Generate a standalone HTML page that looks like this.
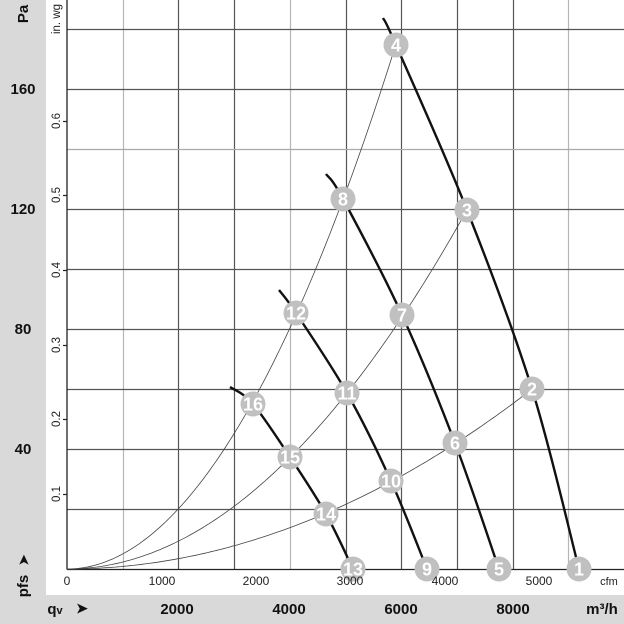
<!DOCTYPE html>
<html><head><meta charset="utf-8"><style>
html,body{margin:0;padding:0;background:#fff;}
svg{display:block;font-family:"Liberation Sans",Arial,sans-serif;}
</style></head><body>
<svg id="s" width="624" height="624" viewBox="0 0 624 624" xmlns="http://www.w3.org/2000/svg">
<rect x="0" y="0" width="46" height="624" fill="#d9d9d9"/>
<rect x="0" y="595" width="624" height="29" fill="#d9d9d9"/>
<g id="grid" stroke-width="1.2"></g>
<line x1="67" y1="0" x2="67" y2="569.5" stroke="#222" stroke-width="1.3"/>
<line x1="67" y1="569.5" x2="624" y2="569.5" stroke="#222" stroke-width="1.3"/>
<g id="curves" fill="none"></g>
<g id="pts"></g>
<g font-size="12" fill="#222" text-anchor="middle">
<text x="67" y="585">0</text><text x="162" y="585">1000</text><text x="256" y="585">2000</text>
<text x="350" y="585">3000</text><text x="445" y="585">4000</text><text x="539" y="585">5000</text>
<text x="609" y="585" font-size="11">cfm</text>
</g>
<g font-size="11.5" fill="#222" text-anchor="middle">
<text transform="translate(60,494) rotate(-90)">0.1</text>
<text transform="translate(60,419) rotate(-90)">0.2</text>
<text transform="translate(60,345) rotate(-90)">0.3</text>
<text transform="translate(60,270) rotate(-90)">0.4</text>
<text transform="translate(60,195) rotate(-90)">0.5</text>
<text transform="translate(60,121) rotate(-90)">0.6</text>
<text transform="translate(60,19) rotate(-90)">in. wg</text>
</g>
<g font-size="15" font-weight="bold" fill="#111" text-anchor="middle">
<text x="23" y="94">160</text><text x="23" y="214">120</text><text x="23" y="334">80</text><text x="23" y="454">40</text>
<text transform="translate(28,14) rotate(-90)" text-anchor="middle">Pa</text>
<text transform="translate(28,586) rotate(-90)">pfs</text>
<text transform="translate(28,560) rotate(-90)" font-size="13">➤</text>
<text x="177" y="614">2000</text><text x="289" y="614">4000</text><text x="401" y="614">6000</text><text x="513" y="614">8000</text>
<text x="602" y="614">m³/h</text>
<text x="55" y="614">q<tspan font-size="11">v</tspan></text>
<text x="82" y="613" font-size="14">➤</text>
</g>
</svg>
<script>
var NS="http://www.w3.org/2000/svg";
function el(p,t,a){var e=document.createElementNS(NS,t);for(var k in a)e.setAttribute(k,a[k]);p.appendChild(e);return e;}
var g=document.getElementById('grid');
var light=[123,290,568];
for(var i=1;i<=10;i++){var x=Math.round(67+55.7*i)+0.5;if(x>624)break;
 var lt=light.some(function(v){return Math.abs(v-x)<3;});
 el(g,'line',{x1:x,y1:0,x2:x,y2:569,stroke:lt?'#b5b5b5':'#555'});}
for(var j=1;j<=9;j++){var y=569-60*j+0.5;
 el(g,'line',{x1:67,y1:y,x2:624,y2:y,stroke:(j==7)?'#aaa':'#555'});}
[494,419,345,270,195,121].forEach(function(y){el(g,'line',{x1:63,y1:y+.5,x2:67,y2:y+.5,stroke:'#222'});});
var c=document.getElementById('curves');
function sys(k,xe){var d='M67 569';for(var x=67;x<=xe;x+=3){d+=' L'+x+' '+(569-k*(x-67)*(x-67)).toFixed(1);}
 d+=' L'+xe+' '+(569-k*(xe-67)*(xe-67)).toFixed(1);el(c,'path',{d:d,stroke:'#444','stroke-width':0.8});}
sys(0.00485,396);sys(0.002245,467);sys(0.000832,532);
function cr(P){var d='M'+P[0][0]+' '+P[0][1];for(var i=0;i<P.length-1;i++){var p0=P[i-1]||P[i],p1=P[i],p2=P[i+1],p3=P[i+2]||p2;
 d+=' C'+(p1[0]+(p2[0]-p0[0])/6)+' '+(p1[1]+(p2[1]-p0[1])/6)+' '+(p2[0]-(p3[0]-p1[0])/6)+' '+(p2[1]-(p3[1]-p1[1])/6)+' '+p2[0]+' '+p2[1];}
 el(c,'path',{d:d,stroke:'#111','stroke-width':2.4});}
cr([[383,18],[396,45],[467,210],[532,389],[579,569]]);
cr([[326,174],[343,199],[402,315],[455,443],[499,569]]);
cr([[279,290],[296,313],[347,393],[391,481],[427,569]]);
cr([[230,387],[253,404],[290,457],[326,514],[353,569]]);
var P={1:[579,569],2:[532,389],3:[467,210],4:[396,45],5:[499,569],6:[455,443],7:[402,315],8:[343,199],9:[427,569],10:[391,481],11:[347,393],12:[296,313],13:[353,569],14:[326,514],15:[290,457],16:[253,404]};
var pg=document.getElementById('pts');
for(var n in P){var p=P[n];el(pg,'circle',{cx:p[0],cy:p[1],r:12.5,fill:'#c0c0c0'});
 var t=el(pg,'text',{x:p[0],y:p[1]+6.5,'text-anchor':'middle','font-size':18,'font-weight':'bold',fill:'#fff'});t.textContent=n;}
</script>
</body></html>
